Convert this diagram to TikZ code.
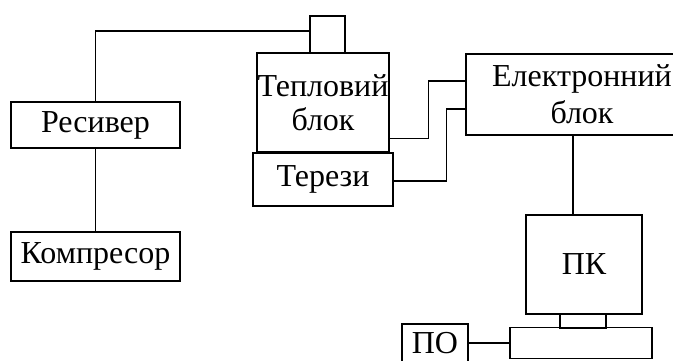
\documentclass[tikz,border=0pt]{standalone}
\usepackage{fontspec}
\setmainfont{Liberation Serif}
\usetikzlibrary{calc}
\tikzset{
  blok/.style={draw, line width=1.4pt, inner sep=0pt, align=center,
    font=\fontsize{32}{34}\selectfont},
}
\begin{document}
\begin{tikzpicture}[x=1pt, y=-1pt, line width=1.4pt]
    \clip (0,0) rectangle (673,360);
    \node[blok, minimum width=169, minimum height=46] (res) at (95.5,125) {Ресивер};
    \node[blok, minimum width=169, minimum height=49] (komp) at (95.5,256.5) {Компресор};
    \node[blok, minimum width=35, minimum height=37] (cap) at (327.5,34.5) {};
    \node[blok, minimum width=132, minimum height=99] (tb) at (323,102.5) {Тепловий\\блок};
    \node[blok, minimum width=140, minimum height=53] (ter) at (323,179.5) {Терези};
    \node[blok, minimum width=232, minimum height=81,
      font=\fontsize{32}{37}\selectfont] (el) at (582,94.5) {Електронний\\блок};
    \node[blok, minimum width=116, minimum height=99] (pk) at (584,264.5) {ПК};
    \node[blok, minimum width=46, minimum height=14] (stand) at (583,321) {};
    \node[blok, minimum width=142, minimum height=31] (base) at (581,343) {};
    \node[blok, minimum width=66, minimum height=38] (po) at (435,343) {ПО};

    \draw (res.north) |- ($(cap.west)+(0,-3.5)$);
    \draw (res.south) -- (komp.north);
    \draw ($(tb.south east)+(0,-14)$) -- ++(39,0) |- ($(el.west)+(0,-13.5)$);
    \draw ($(ter.east)+(0,1.5)$) -- ++(53,0) |- ($(el.west)+(0,14.5)$);
    \draw ($(pk.north)+(-11,0)$) |- (el.south);
    \draw (po.east) -- (base.west);
\end{tikzpicture}
\end{document}
